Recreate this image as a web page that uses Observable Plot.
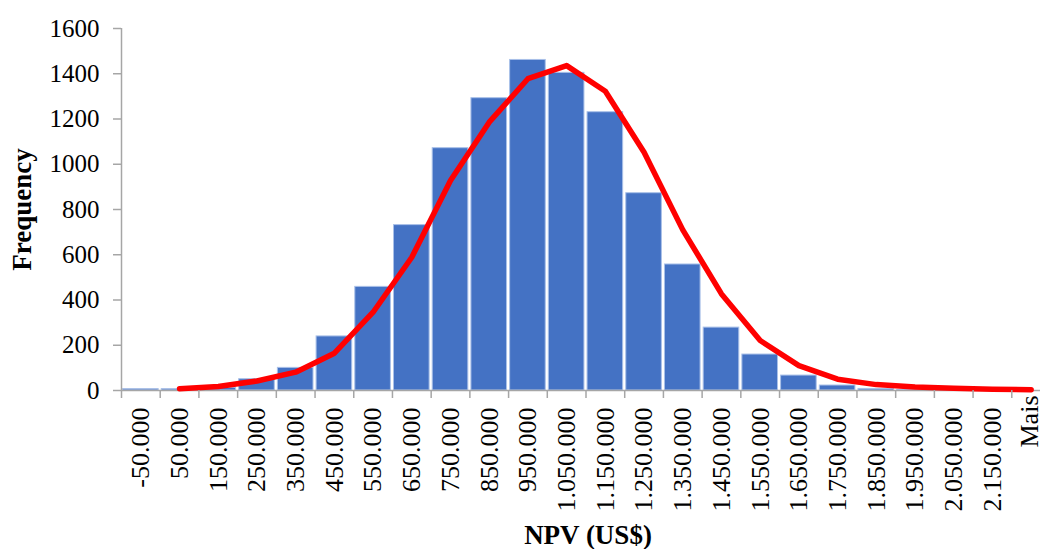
<!DOCTYPE html>
<html>
<head>
<meta charset="utf-8">
<script src="https://cdn.jsdelivr.net/npm/d3@7"></script>
<script src="https://cdn.jsdelivr.net/npm/@observablehq/plot@0.6"></script>
<style>
  html, body { margin: 0; padding: 0; background: white; }
</style>
</head>
<body>
<div id="chart"></div>
<script>
const categories = ["-50.000","50.000","150.000","250.000","350.000","450.000","550.000","650.000","750.000","850.000","950.000","1.050.000","1.150.000","1.250.000","1.350.000","1.450.000","1.550.000","1.650.000","1.750.000","1.850.000","1.950.000","2.050.000","2.150.000","Mais"];
const frequency = [6, 6, 12, 50, 100, 239, 458, 731, 1071, 1292, 1461, 1404, 1230, 872, 557, 278, 159, 66, 22, 7, 2, 1, 0, 0];
const normalFit = [null, 8, 18, 42, 81, 165, 346, 589, 928, 1186, 1378, 1436, 1323, 1053, 710, 427, 221, 110, 50, 26, 15, 10, 6, 3];
const yTicks = [0, 200, 400, 600, 800, 1000, 1200, 1400, 1600];
const yTitle = "Frequency";
const xTitle = "NPV (US$)";

const rows = categories.map((c, i) => ({cat: c, freq: frequency[i], fit: normalFit[i]}));

const x0 = 121, x1 = 1050;
const step = (x1 - x0) / categories.length;
const axisGray = "#a6a6a6";
const numericCats = categories.slice(0, -1);
const lastCat = categories.slice(-1);

const chart = Plot.plot({
  width: 1040,
  height: 549,
  marginLeft: 121,
  marginRight: 0,
  marginTop: 28,
  marginBottom: 159,
  style: {fontFamily: "'Liberation Serif', 'Times New Roman', serif", background: "white", color: "black"},
  x: {domain: categories, range: [x0, x1], paddingInner: 0.08, paddingOuter: 0.04, round: false},
  y: {domain: [0, 1600]},
  marks: [
    Plot.barY(rows, {x: "cat", y: "freq", fill: "#4472C4", stroke: "#a9c0e8", strokeWidth: 1}),
    Plot.ruleY([0], {stroke: axisGray, strokeWidth: 1.5}),
    Plot.ruleX([categories[0]], {y1: 0, y2: 1600, dx: -step / 2, stroke: axisGray, strokeWidth: 1.5}),
    Plot.line(rows.filter(d => d.fit != null), {x: "cat", y: "fit", stroke: "#ff0000", strokeWidth: 5.5, strokeLinejoin: "round", strokeLinecap: "round"}),
    Plot.axisY({ticks: yTicks, tickFormat: d => String(d), tickSize: 8, tickPadding: 14, fontSize: 25, stroke: axisGray, strokeWidth: 1.5, label: null}),
    Plot.axisX({tickSize: 8, tickFormat: () => "", dx: -step / 2, stroke: axisGray, strokeWidth: 1.5, label: null}),
    Plot.axisX({ticks: numericCats, tickSize: 0, tickPadding: 17, tickRotate: -90, fontSize: 26, label: null}),
    Plot.axisX({ticks: lastCat, tickSize: 0, tickPadding: 5, tickRotate: -90, fontSize: 26, dx: -1, label: null}),
    Plot.text([yTitle], {text: d => d, frameAnchor: "left", textAnchor: "middle", lineAnchor: "middle", rotate: -90, dx: -99, fontWeight: "bold", fontSize: 27}),
    Plot.text([xTitle], {text: d => d, frameAnchor: "bottom", textAnchor: "middle", lineAnchor: "middle", dx: 7, dy: 145, fontWeight: "bold", fontSize: 27})
  ]
});
document.getElementById("chart").appendChild(chart);
</script>
</body>
</html>
